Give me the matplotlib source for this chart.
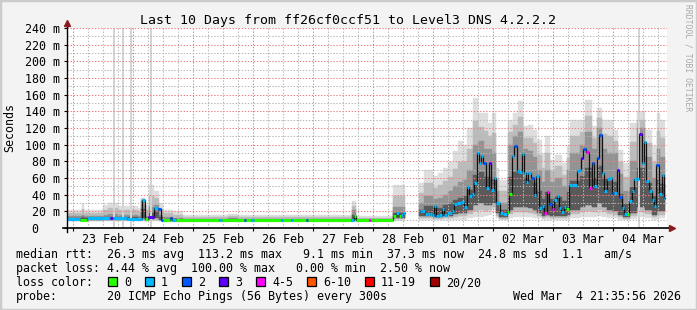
import numpy as np
import matplotlib.pyplot as plt
from matplotlib.patches import Rectangle

plt.rcParams['font.family'] = 'DejaVu Sans Mono'
plt.rcParams['lines.scale_dashes'] = False

W, H = 697, 310

# hours after 23 Feb 00:00 ; graph covers 22 Feb 21:35 .. 04 Mar 21:35
t_start, t_end = -2.4, 237.6
day_labels = ["23 Feb", "24 Feb", "25 Feb", "26 Feb", "27 Feb",
              "28 Feb", "01 Mar", "02 Mar", "03 Mar", "04 Mar"]

loss_colors = ['#26ff00', '#00b8ff', '#0059ff', '#5e00ff',
               '#ff00ff', '#ff5500', '#ff0000', '#a10000']
loss_labels = ['0', '1', '2', '3', '4-5', '6-10', '11-19', '20/20']

# median rtt (ms) per step, step start in hours, loss class index
med_hours = [-2.4, 2.8, 5.6, 14.8, 16.0, 21.6, 27.4, 28.6, 30.0, 32.4,
             34.0, 35.0, 36.0, 38.6, 39.6, 41.0, 58.4, 59.6, 68.4, 69.2,
             71.2, 72.4, 83.2, 84.0, 87.2, 88.0, 93.2, 94.0, 111.2, 112.4,
             113.2, 118.4, 119.2, 128.0, 129.2, 130.4, 131.2, 132.0, 132.8,
             138.8, 139.6, 140.8, 142.0, 142.8, 143.4, 144.4, 145.2, 146.4, 147.6,
             148.4, 149.6, 150.8, 151.6, 152.4, 153.6, 155.2, 156.4, 157.6, 158.4,
             159.6, 160.4, 161.6, 162.4, 163.2, 164.0, 165.2, 166.4, 167.2, 168.4,
             169.2, 170.8, 172.0, 173.6, 174.4, 175.6, 176.4, 177.6, 178.4, 179.6,
             180.4, 181.2, 182.0, 183.2, 184.4, 185.2, 186.4, 187.6, 188.4, 189.6,
             190.4, 191.6, 192.4, 193.6, 194.4, 195.2, 196.4, 197.2, 198.4, 199.6,
             201.6, 202.4, 203.2, 204.0, 205.2, 206.4, 207.6, 208.4, 209.6, 210.4,
             211.6, 212.4, 213.6, 214.4, 215.6, 216.4, 217.6, 218.4, 219.6, 220.4,
             221.6, 222.4, 223.6, 224.4, 225.6, 226.4, 227.6, 228.4, 229.2, 230.4,
             231.6, 232.4, 233.2, 234.4, 235.6, 236.4]
med_ms = [10.8, 9.6, 11.6, 12.0, 11.9, 10.8, 33.6, 10.8, 13.6, 23.6,
          22.8, 9.6, 9.6, 12.0, 9.6, 9.6, 9.6, 9.6, 9.6, 9.6,
          9.6, 9.6, 9.6, 9.6, 9.6, 9.6, 9.6, 9.6, 9.6, 14.4,
          9.6, 9.6, 9.6, 14.4, 18.0, 14.4, 15.6, 18.0, np.nan,
          20.8, 20.8, 16.8, 16.8, 16.8, 15.6, 26.4, 14.4, 15.6, 23.0,
          15.6, 17.6, 18.0, 20.0, 28.8, 30.0, 30.7, 25.6, 49.6, 38.4,
          40.8, 54.0, 89.6, 78.0, 86.0, 78.0, 48.0, 78.0, 45.6, 60.0,
          30.4, 18.4, 16.8, 19.2, 40.8, 86.4, 98.0, 68.8, 67.0, 88.8,
          66.4, 55.6, 66.4, 60.4, 40.0, 62.4, 23.6, 26.4, 18.4, 43.2,
          28.8, 23.0, 33.6, 38.4, 23.6, 19.2, 25.6, 23.0, 51.6, 51.6,
          68.8, 69.6, 83.6, 94.8, 91.6, 48.0, 78.4, 50.4, 84.0, 111.6,
          66.4, 44.8, 59.2, 60.0, 42.4, 42.4, 69.6, 37.6, 24.0, 16.8,
          16.8, 32.8, 44.8, 58.4, 59.2, 112.8, 78.4, 103.2, 56.8, 44.8,
          33.6, 26.4, 75.6, 40.8, 63.6, 36.0]
med_loss = [1, 0, 1, 3, 1, 1, 1, 0, 3, 1,
            2, 2, 0, 2, 1, 0, 1, 0, 2, 0,
            1, 0, 1, 0, 1, 0, 2, 0, 1, 0,
            0, 4, 0, 0, 1, 0, 1, 1, 0,
            1, 1, 1, 1, 1, 1, 1, 1, 1, 1,
            1, 1, 1, 1, 1, 1, 1, 1, 1, 1,
            1, 1, 1, 1, 1, 2, 1, 3, 1, 1,
            1, 1, 1, 0, 0, 1, 2, 1, 1, 1,
            1, 1, 1, 2, 1, 1, 1, 1, 4, 4,
            2, 4, 1, 1, 1, 1, 1, 0, 1, 1,
            1, 1, 3, 2, 4, 4, 2, 1, 2, 2,
            1, 1, 1, 1, 2, 1, 3, 2, 1, 1,
            0, 1, 1, 1, 1, 3, 1, 1, 1, 1,
            1, 1, 2, 1, 1, 1]
med_end = 236.8

# smoke: spread of the 20 pings per step (ms)
smk_hours = [-2.4, 1.6, 3.6, 4.4, 12.0, 14.0, 18.0, 26.0, 27.2, 28.8,
             30.4, 32.4, 34.4, 36.0, 40.0, 44.0, 62.0, 66.0, 111.6, 113.2,
             128.0, 132.8,
             138.4, 140.4, 144.0, 146.0, 148.0, 150.0, 152.0, 154.0, 156.0, 157.6,
             160.0, 162.0, 164.4, 166.0, 167.6, 169.2, 170.4, 174.0, 176.0, 178.0,
             180.0, 182.0, 184.0, 185.6, 187.6, 188.8, 190.8, 192.8, 195.6, 197.6,
             198.8, 202.8, 204.8, 207.6, 209.6, 211.6, 213.6, 216.0, 218.0, 220.0,
             222.8, 225.6, 228.8, 231.6, 233.6, 234.8]
smk_lo = [8.4, 8.4, 8.4, 8.4, 8.4, 8.4, 8.4, 8.4, 8.4, 8.4,
          8.4, 8.4, 8.4, 7.6, 7.6, 7.6, 7.6, 7.6, 7.6, 7.6,
          9.0, np.nan,
          9.6, 9.6, 9.6, 9.6, 9.6, 9.6, 9.6, 10, 10, 12,
          13.6, 13.6, 14, 16, 21.6, 12, 9.6, 12, 13, 13,
          13, 13, 12, 12, 10, 10, 10, 10, 10, 10,
          12, 13, 13, 13, 14, 13, 12, 12, 10, 9.6,
          11, 13, 12, 10, 12, 12]
smk_q1 = [9.6, 9.6, 10, 9.6, 10, 10, 10, 9.6, 12, 9.6,
          11, 12, 9.6, 9, 9, 9, 9, 9, 10, 9,
          12, np.nan,
          14, 14, 13, 13, 14, 15, 17, 18, 18, 22,
          28, 30, 28, 28, 30, 18, 13, 22, 25, 25,
          25, 24, 22, 18, 15, 16, 15, 15, 14, 16,
          22, 25, 28, 25, 30, 25, 22, 20, 16, 13,
          18, 25, 22, 16, 20, 20]
smk_q3 = [14, 14, 16, 14, 16, 17, 16, 15, 33, 15,
          25, 28, 16, 13, 12, 11, 11.5, 11, 22, 11,
          25, np.nan,
          30, 38, 35, 36, 40, 44, 50, 55, 58, 70,
          100, 105, 95, 95, 90, 45, 30, 100, 110, 115,
          95, 92, 85, 70, 55, 70, 55, 60, 50, 70,
          90, 100, 115, 95, 120, 95, 90, 90, 65, 45,
          80, 120, 85, 60, 95, 85]
smk_hi = [21.6, 22, 30, 21.6, 27.6, 30, 26, 24, 36, 28,
          52, 45, 30, 22, 20, 15.6, 17, 15.6, 32, 14,
          52, np.nan,
          54, 69.6, 62, 66, 72, 79, 92, 104, 100, 120,
          156, 138, 138, 126, 138, 72, 57.6, 130, 138, 152,
          122, 124, 118, 106, 90, 110, 82, 88, 78, 98,
          130, 130, 154, 122, 144, 130, 130, 118, 94, 78,
          126, 140, 118, 98, 138, 130]
smk_end = 236.8

# single outlier pings far above the plot top
spike_hours = [16.4, 20.0, 23.2, 31.2, 226.4]
spike_ms = [300, 300, 300, 300, 300]

fig = plt.figure(figsize=(W / 100, H / 100), dpi=100, facecolor='#f3f3f3')
ax = fig.add_axes([67 / W, 82 / H, 600 / W, 200 / H])
ax.set_facecolor('white')
ax.set_xlim(t_start, t_end)
ax.set_ylim(0, 240)
for s in ax.spines.values():
    s.set_visible(False)

# grid
minor_c, major_c = '#b8b8b8', '#f08080'
dots = (0, (1.0, 1.2))
for h in range(6, 237, 6):
    if h % 24:
        ax.axvline(h, color=minor_c, lw=0.75, ls=dots, zorder=2)
for h in range(0, 237, 24):
    ax.axvline(h, color=major_c, lw=0.75, ls=dots, zorder=2)
for v in range(10, 240, 20):
    ax.axhline(v, color=minor_c, lw=0.75, ls=dots, zorder=2)
for v in range(20, 241, 20):
    ax.axhline(v, color=major_c, lw=0.75, ls=dots, zorder=2)

# smoke, lighter towards the extremes
edges = np.append(smk_hours, smk_end)
widths = np.diff(edges)
lo, q1, q3, hi = (np.array(a, dtype=float) for a in (smk_lo, smk_q1, smk_q3, smk_hi))
shades = [(0.0, '#dedede'), (0.5, '#bcbcbc'), (1.0, '#939393')]
for f, col in shades:
    b = lo + f * (q1 - lo)
    t = hi - f * (hi - q3)
    ax.bar(smk_hours, t - b, width=widths, bottom=b, align='edge',
           color=col, edgecolor=col, lw=0.3, zorder=1)
core_top = q1 + 0.5 * (q3 - q1)
ax.bar(smk_hours, core_top - q1, width=widths, bottom=q1, align='edge',
       color='#5a5a5a', edgecolor='#5a5a5a', lw=0.3, zorder=1)
ax.bar(spike_hours, spike_ms, width=1.0, align='center', color='#d4d4d4', lw=0, zorder=1)

# median line coloured by loss
mx = np.append(med_hours, med_end)
my = np.append(med_ms, med_ms[-1])
ax.step(mx, my, where='post', color='#111111', lw=0.9, zorder=3)
ax.hlines(med_ms, med_hours, mx[1:], colors=[loss_colors[i] for i in med_loss],
          lw=2.2, zorder=4)

# axes lines with arrows
ax.plot([-0.007, 1.008], [0, 0], transform=ax.transAxes, color='black', lw=1.2,
        clip_on=False, zorder=5)
ax.plot([0, 0], [-0.02, 1.02], transform=ax.transAxes, color='black', lw=1.0,
        clip_on=False, zorder=5)
ax.plot([1.008], [0], marker='>', ms=4.5, color='#8b1a1a', transform=ax.transAxes,
        clip_on=False, zorder=6)
ax.plot([0], [1.025], marker='^', ms=4.5, color='#8b1a1a', transform=ax.transAxes,
        clip_on=False, zorder=6)

# ticks
ax.set_xticks(range(0, 217, 24), labels=[''] * 10)
ax.set_xticks(range(12, 229, 24), labels=day_labels, minor=True)
ax.tick_params(axis='x', which='major', length=2, width=0.8)
ax.tick_params(axis='x', which='minor', length=0, pad=3.5, labelsize=8.4)
yt = list(range(0, 241, 20))
ax.set_yticks(yt, labels=['0   '] + [f'{v} m' for v in yt[1:]])
ax.tick_params(axis='y', length=2, width=0.8, pad=3, labelsize=8.4)

# texts
fig.text(348 / W, 1 - 24 / H, 'Last 10 Days from ff26cf0ccf51 to Level3 DNS 4.2.2.2',
         ha='center', va='baseline', fontsize=9.55)
fig.text(10 / W, 1 - 128 / H, 'Seconds', rotation=90, ha='center', va='center', fontsize=8.4)
fig.text(688 / W, 1 - 58 / H, 'RRDTOOL / TOBI OETIKER', rotation=270, ha='center',
         va='center', fontsize=5.8, color='#a8a8a8')

fs = 8.4
fig.text(16 / W, 1 - 258 / H,
         'median rtt:  26.3 ms avg  113.2 ms max   9.1 ms min  37.3 ms now  24.8 ms sd  1.1   am/s',
         va='baseline', fontsize=fs)
fig.text(16 / W, 1 - 272 / H,
         'packet loss: 4.44 % avg  100.00 % max   0.00 % min  2.50 % now',
         va='baseline', fontsize=fs)
fig.text(16 / W, 1 - 286 / H, 'loss color:', va='baseline', fontsize=fs)
x = 108
for col, lab in zip(loss_colors, loss_labels):
    fig.add_artist(Rectangle((x / W, 1 - 286 / H), 9 / W, 9 / H, transform=fig.transFigure,
                             facecolor=col, edgecolor='black', lw=0.9))
    fig.text((x + 16) / W, 1 - 286 / H, lab, va='baseline', fontsize=fs)
    x += 16 + 7 * len(lab) + 14
fig.text(16 / W, 1 - 300 / H, 'probe:', va='baseline', fontsize=fs)
fig.text(107 / W, 1 - 300 / H, '20 ICMP Echo Pings (56 Bytes) every 300s',
         va='baseline', fontsize=fs)
fig.text(681 / W, 1 - 300 / H, 'Wed Mar  4 21:35:56 2026', ha='right', va='baseline',
         fontsize=fs)

# frame
fig.add_artist(Rectangle((0, 0), 1, 1, transform=fig.transFigure, fill=False,
                         edgecolor='#cccccc', lw=2.5))

fig.savefig('out.png', dpi=100, facecolor=fig.get_facecolor())
